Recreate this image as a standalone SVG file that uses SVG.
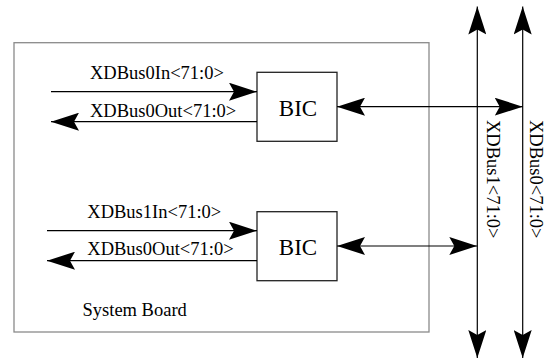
<svg xmlns="http://www.w3.org/2000/svg" width="546" height="362" viewBox="0 0 546 362">
  <style>
    .lbl { font-family: "Liberation Serif", "Times New Roman", serif; font-size: 18.5px; fill: #000; }
    .bic { font-family: "Liberation Serif", "Times New Roman", serif; font-size: 23px; fill: #000; text-anchor: middle; }
    .box { fill: #fff; stroke: #222; stroke-width: 1.3; }
    .board { fill: none; stroke: #8a8a8a; stroke-width: 1.3; }
    .wire { fill: none; stroke: #000; stroke-width: 1.2; }
  </style>
  <defs>
    <marker id="head" viewBox="0 0 28 18" refX="28" refY="9" markerWidth="28" markerHeight="18" markerUnits="userSpaceOnUse" orient="auto-start-reverse">
      <path d="M28,9 L0,0 L5,9 L0,18 Z" fill="#000"/>
    </marker>
  </defs>

  <g id="system-board">
    <rect class="board" x="14" y="42.7" width="415" height="289.3"/>
    <text class="lbl" x="82.5" y="315.5">System Board</text>
  </g>

  <g id="bic-0">
    <rect class="box" x="257" y="72.3" width="80" height="69"/>
    <text class="bic" x="298" y="116">BIC</text>
  </g>

  <g id="bic-1">
    <rect class="box" x="257" y="211.7" width="80" height="69"/>
    <text class="bic" x="298" y="255">BIC</text>
  </g>

  <g id="xdbus1">
    <line class="wire" x1="477.3" y1="358" x2="477.3" y2="6.5" marker-start="url(#head)" marker-end="url(#head)"/>
    <text class="lbl" transform="translate(487,120) rotate(90)">XDBus1&lt;71:0&gt;</text>
  </g>

  <g id="xdbus0">
    <line class="wire" x1="522.7" y1="358" x2="522.7" y2="6.5" marker-start="url(#head)" marker-end="url(#head)"/>
    <text class="lbl" transform="translate(530,120) rotate(90)">XDBus0&lt;71:0&gt;</text>
  </g>

  <g id="connectors">
    <!-- upper BIC signals -->
    <line class="wire" x1="51" y1="91.7" x2="257" y2="91.7" marker-end="url(#head)"/>
    <text class="lbl" x="90" y="79">XDBus0In&lt;71:0&gt;</text>
    <line class="wire" x1="257" y1="121.7" x2="51" y2="121.7" marker-end="url(#head)"/>
    <text class="lbl" x="90" y="116.5">XDBus0Out&lt;71:0&gt;</text>
    <line class="wire" x1="337" y1="106.7" x2="522.7" y2="106.7" marker-start="url(#head)" marker-end="url(#head)"/>

    <!-- lower BIC signals -->
    <line class="wire" x1="47" y1="230.7" x2="257" y2="230.7" marker-end="url(#head)"/>
    <text class="lbl" x="87.3" y="217.5">XDBus1In&lt;71:0&gt;</text>
    <line class="wire" x1="257" y1="260.7" x2="47" y2="260.7" marker-end="url(#head)"/>
    <text class="lbl" x="87.3" y="255">XDBus0Out&lt;71:0&gt;</text>
    <line class="wire" x1="337" y1="246" x2="477.3" y2="246" marker-start="url(#head)" marker-end="url(#head)"/>
  </g>
</svg>
